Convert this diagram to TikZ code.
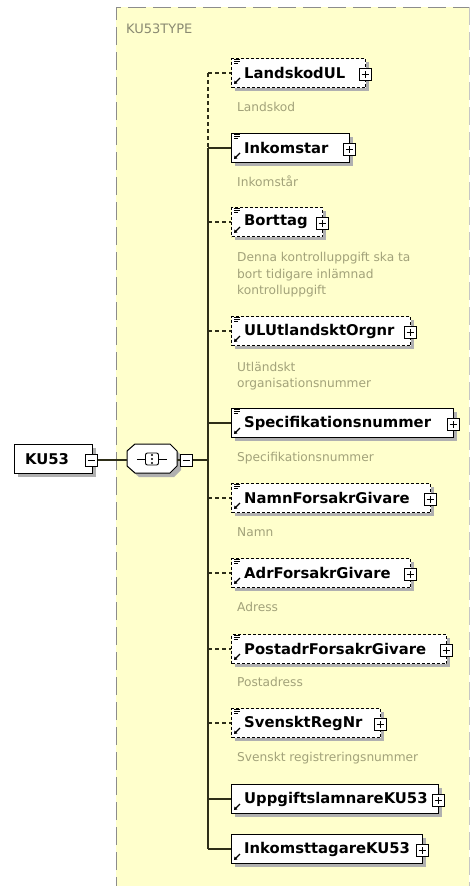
\documentclass[tikz,border=0pt]{standalone}
\usepackage{fontspec}
\setmainfont{DejaVu Sans}
\usetikzlibrary{arrows.meta}
\definecolor{yel}{HTML}{FFFFCC}
\definecolor{framec}{HTML}{8C8C8C}
\definecolor{descc}{HTML}{A2A27A}
\definecolor{titlec}{HTML}{8A8A72}
\definecolor{shad}{HTML}{B0B0B0}
\definecolor{linec}{HTML}{2E2E18}
\tikzset{
  reqbox/.style={draw=black, line width=1pt, fill=white, inner sep=0pt, anchor=north west, minimum height=29pt},
  optbox/.style={reqbox, dash pattern=on 3pt off 2pt},
  pluss/.style={draw=black, line width=1pt, fill=white, minimum size=12pt, inner sep=0pt},
  elname/.style={font=\bfseries\fontsize{14.8}{16}\selectfont, anchor=west, inner sep=0pt},
  descr/.style={font=\fontsize{12.2}{16}\selectfont, text=descc, anchor=base west, inner sep=0pt},
  reqline/.style={draw=linec, line width=1.2pt},
  optline/.style={draw=linec, line width=1.2pt, dash pattern=on 4pt off 3pt},
  seqshape/.style={line width=1pt},
}
% #1 id, #2 cy, #3 right edge, #4 label, #5 optional (1/0), #6 simple content (1/0)
\newcommand\myelem[6]{%
  \fill[shad] (235,#2-11) rectangle (#3+4,#2+18);
  \ifnum#5=1
    \node[optbox, minimum width={(#3-231)*1pt}] (#1) at (231,#2-15) {};
  \else
    \node[reqbox, minimum width={(#3-231)*1pt}] (#1) at (231,#2-15) {};
  \fi
  \node[elname] (#1t) at (244,#2) {#4};
  \node[pluss] (#1p) at (#3,#2+1) {};
  \draw[line width=1pt] (#1p.center) ++(-3.5pt,0) -- ++(7pt,0);
  \draw[line width=1pt] (#1p.center) ++(0,-3.5pt) -- ++(0,7pt);
  \ifnum#6=1
    \draw[line width=0.8pt] (234,#2-14) -- (240,#2-14) (234,#2-12) -- (240,#2-12) (234,#2-10) -- (238,#2-10);
  \fi
  \draw[line width=1.3pt, -{Triangle[length=3pt,width=4pt]}] (240,#2+5) -- (234,#2+11);
  \coordinate (bus#1) at (208,#2);
  \ifnum#5=1
    \draw[optline] (bus#1) -- (#1.west |- bus#1);
  \else
    \draw[reqline] (bus#1) -- (#1.west |- bus#1);
  \fi
}
\begin{document}
\begin{tikzpicture}[x=1pt,y=-1pt]
\useasboundingbox (0,0) rectangle (471,886);
\clip (0,0) rectangle (471,886);
\fill[white] (0,0) rectangle (471,886);
% type frame
\fill[yel] (116,7) rectangle (469,895);
\draw[framec, line width=1pt, dash pattern=on 18pt off 7pt] (116,895) -- (116,7) -- (469,7);
\draw[framec!50, line width=0.8pt, dash pattern=on 18pt off 7pt] (469,7) -- (469,895);
\node[font=\fontsize{13}{15}\selectfont, text=titlec, anchor=west, inner sep=0pt] (ttl) at (126,29) {KU53TYPE};

% elements
\myelem{A}{73}{365}{LandskodUL}{1}{1}
\myelem{B}{148}{349}{Inkomstar}{0}{1}
\myelem{C}{222}{322}{Borttag}{1}{1}
\myelem{D}{331}{410}{ULUtlandsktOrgnr}{1}{1}
\myelem{E}{423}{453}{Specifikationsnummer}{0}{1}
\myelem{F}{498}{430}{NamnForsakrGivare}{1}{1}
\myelem{G}{573}{410}{AdrForsakrGivare}{1}{1}
\myelem{H}{649}{446}{PostadrForsakrGivare}{1}{1}
\myelem{I}{723}{380}{SvensktRegNr}{1}{1}
\myelem{J}{799}{438}{UppgiftslamnareKU53}{0}{0}
\myelem{K}{849}{422}{InkomsttagareKU53}{0}{0}

% bus
\draw[optline] (busA) -- (busB);
\draw[reqline] (busB) -- (busK);

% descriptions
\node[descr] (dA) at (237,111) {Landskod};
\node[descr] (dB) at (237,186) {Inkomstår};
\node[descr] (dC1) at (237,261) {Denna kontrolluppgift ska ta};
\node[descr] (dC2) at (237,278) {bort tidigare inlämnad};
\node[descr] (dC3) at (237,294) {kontrolluppgift};
\node[descr] (dD1) at (237,371) {Utländskt};
\node[descr] (dD2) at (237,387) {organisationsnummer};
\node[descr] (dE) at (237,461) {Specifikationsnummer};
\node[descr] (dF) at (237,536) {Namn};
\node[descr] (dG) at (237,611) {Adress};
\node[descr] (dH) at (237,686) {Postadress};
\node[descr] (dI) at (237,761) {Svenskt registreringsnummer};

% root element
\fill[shad] (18,448) rectangle (96,477);
\node[reqbox, minimum width=78pt] (ku) at (14,444) {};
\node[elname] (kut) at (25,459) {KU53};
\node[pluss] (kum) at (91,460) {};
\draw[line width=1pt] (kum.center) ++(-3.5pt,0) -- ++(7pt,0);

% sequence compositor (chamfered box)
\fill[shad] (139,448) -- (174,448) -- (181,455) -- (181,470) -- (174,477) -- (139,477) -- (131,470) -- (131,455) -- cycle;
\draw[seqshape, fill=white] (135,444) -- (170,444) -- (177,451) -- (177,466) -- (170,473) -- (135,473) -- (127,466) -- (127,451) -- cycle;
\node[inner sep=0pt, minimum width=50pt, minimum height=29pt] (seq) at (152,459) {};
\draw[line width=1pt] (seq.center) ++(-15pt,0) -- ++(30pt,0);
\node[draw=black, line width=0.9pt, fill=white, minimum width=13pt, minimum height=12pt, inner sep=0pt, rounded corners=2pt] (seqi) at (seq.center) {};
\fill (152,455) circle (1.1pt) (152,459) circle (1.1pt) (152,463) circle (1.1pt);
\node[pluss] (seqm) at (186,460) {};
\draw[line width=1pt] (seqm.center) ++(-3.5pt,0) -- ++(7pt,0);
\coordinate (busS) at (208,460);

\draw[reqline] (kum.east) -- (seq.west |- kum.east);
\draw[reqline] (seq.east |- seqm.west) -- (seqm.west);
\draw[reqline] (seqm.east) -- (busS);
\end{tikzpicture}
\end{document}
